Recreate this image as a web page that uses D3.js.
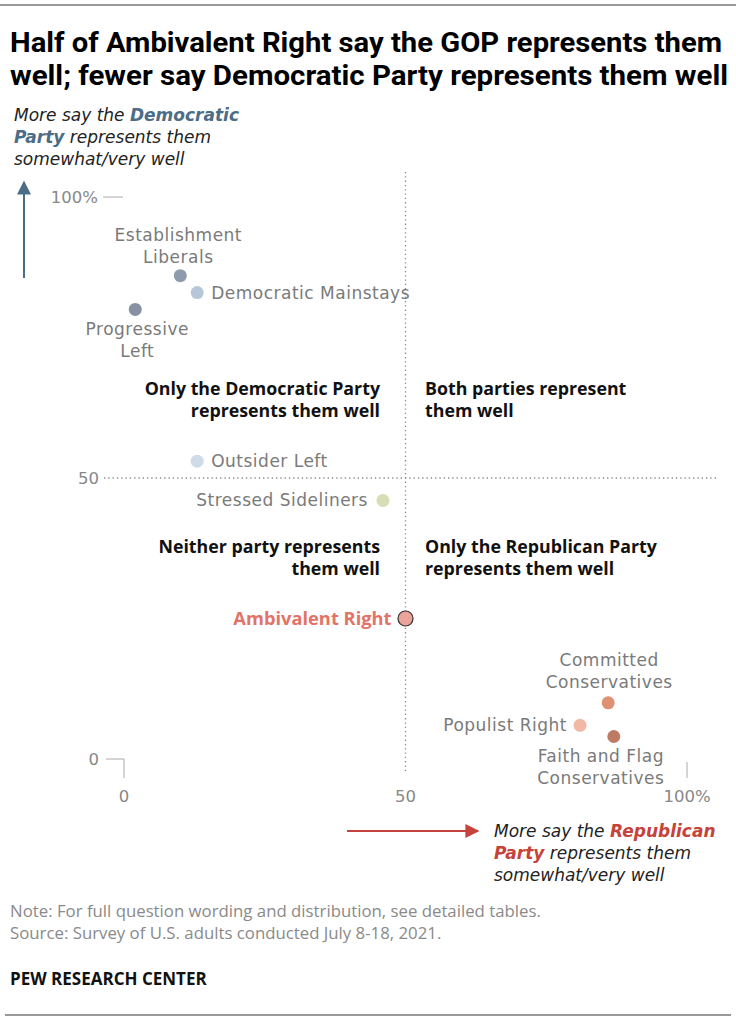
<!DOCTYPE html>
<html>
<head>
<meta charset="utf-8">
<script src="https://cdn.jsdelivr.net/npm/d3@7"></script>
<style>
  body { margin: 0; background: #fff; }
  svg { display: block; font-family: "DejaVu Sans", "Open Sans", sans-serif; }
</style>
</head>
<body>
<svg width="736" height="1023"></svg>
<script>
// typology groups: x = % saying GOP represents them well, y = % saying Democratic Party does
var groups = ["Establishment Liberals", "Democratic Mainstays", "Progressive Left", "Outsider Left",
              "Stressed Sideliners", "Ambivalent Right", "Committed Conservatives", "Populist Right",
              "Faith and Flag Conservatives"];
var repValues = [10, 13, 2, 13, 46, 50, 86, 81, 87];
var demValues = [86, 83, 80, 53, 46, 25, 10, 6, 4];
var dotColors = ["#8e9aad", "#b6c8d7", "#8791a3", "#cfdbe6", "#d8ddb6", "#eba39a", "#df9273", "#f1b9a5", "#bd7b64"];
var xTicks = ["0", "50", "100%"];
var yTicks = ["0", "50", "100%"];

var svg = d3.select("svg");
var W = 736;
var openSans = "'Open Sans', sans-serif";

var x = d3.scaleLinear().domain([0, 100]).range([124, 687]);
var y = d3.scaleLinear().domain([0, 100]).range([759, 197]);

// top and bottom rules
svg.append("line").attr("x1", 0).attr("x2", W).attr("y1", 5).attr("y2", 5)
    .attr("stroke", "#777").attr("stroke-width", 1.5);
svg.append("line").attr("x1", 5).attr("x2", 731).attr("y1", 1015).attr("y2", 1015)
    .attr("stroke", "#777").attr("stroke-width", 1.5);

// title
var title = svg.append("text").attr("font-size", 28)
    .attr("font-weight", "bold").attr("fill", "#000")
    .style("font-family", "'Roboto', sans-serif");
title.append("tspan").attr("x", 10).attr("y", 52)
    .attr("textLength", 712).attr("lengthAdjust", "spacingAndGlyphs")
    .text("Half of Ambivalent Right say the GOP represents them");
title.append("tspan").attr("x", 10).attr("y", 85)
    .attr("textLength", 718).attr("lengthAdjust", "spacingAndGlyphs")
    .text("well; fewer say Democratic Party represents them well");

// y axis direction label
var blue = "#4c6d87", red = "#c5433a";
var yl = svg.append("text").attr("font-size", 17).attr("font-style", "italic").attr("fill", "#222");
var l1 = yl.append("tspan").attr("x", 14).attr("y", 121);
l1.append("tspan").text("More say the ");
l1.append("tspan").attr("font-weight", "bold").attr("fill", blue).text("Democratic");
var l2 = yl.append("tspan").attr("x", 14).attr("y", 143);
l2.append("tspan").attr("font-weight", "bold").attr("fill", blue).text("Party");
l2.append("tspan").text(" represents them");
yl.append("tspan").attr("x", 14).attr("y", 165).text("somewhat/very well");

svg.append("defs").html(
  '<marker id="ab" viewBox="0 0 10 10" refX="9" refY="5" markerWidth="7" markerHeight="7" orient="auto">' +
  '<path d="M0,0L10,5L0,10z" fill="' + blue + '"/></marker>' +
  '<marker id="ar" viewBox="0 0 10 10" refX="9" refY="5" markerWidth="7" markerHeight="7" orient="auto">' +
  '<path d="M0,0L10,5L0,10z" fill="' + red + '"/></marker>');

svg.append("line").attr("x1", 24).attr("x2", 24).attr("y1", 278).attr("y2", 182)
    .attr("stroke", blue).attr("stroke-width", 2).attr("marker-end", "url(#ab)");

// reference lines at 50
svg.append("line").attr("x1", 104).attr("x2", 716).attr("y1", y(50)).attr("y2", y(50))
    .attr("stroke", "#888").attr("stroke-width", 1.3).attr("stroke-dasharray", "1.3,3");
svg.append("line").attr("x1", x(50)).attr("x2", x(50)).attr("y1", 172).attr("y2", 772)
    .attr("stroke", "#888").attr("stroke-width", 1.3).attr("stroke-dasharray", "1.3,3");

// y tick labels
var tickGrey = "#888";
svg.append("text").attr("x", 98).attr("y", y(100) + 6).attr("text-anchor", "end")
    .attr("font-size", 16.5).attr("fill", tickGrey).text(yTicks[2]);
svg.append("line").attr("x1", 103).attr("x2", 123).attr("y1", y(100)).attr("y2", y(100))
    .attr("stroke", "#aaa").attr("stroke-width", 1);
svg.append("text").attr("x", 99).attr("y", y(50) + 6).attr("text-anchor", "end")
    .attr("font-size", 16.5).attr("fill", tickGrey).text(yTicks[1]);
svg.append("text").attr("x", 99).attr("y", y(0) + 6).attr("text-anchor", "end")
    .attr("font-size", 16.5).attr("fill", tickGrey).text(yTicks[0]);
svg.append("path").attr("d", "M106," + y(0) + "H" + x(0) + "V778")
    .attr("fill", "none").attr("stroke", "#aaa").attr("stroke-width", 1);
svg.append("line").attr("x1", x(100)).attr("x2", x(100)).attr("y1", 762).attr("y2", 778)
    .attr("stroke", "#aaa").attr("stroke-width", 1);

// x tick labels
[0, 50, 100].forEach(function(v, i) {
  svg.append("text").attr("x", x(v)).attr("y", 802).attr("text-anchor", "middle")
      .attr("font-size", 16.5).attr("fill", tickGrey).text(xTicks[i]);
});

// x axis direction label
svg.append("line").attr("x1", 347).attr("x2", 478).attr("y1", 831).attr("y2", 831)
    .attr("stroke", red).attr("stroke-width", 2).attr("marker-end", "url(#ar)");
var xl = svg.append("text").attr("font-size", 17).attr("font-style", "italic").attr("fill", "#222");
var m1 = xl.append("tspan").attr("x", 494).attr("y", 837);
m1.append("tspan").text("More say the ");
m1.append("tspan").attr("font-weight", "bold").attr("fill", red).text("Republican");
var m2 = xl.append("tspan").attr("x", 494).attr("y", 859);
m2.append("tspan").attr("font-weight", "bold").attr("fill", red).text("Party");
m2.append("tspan").text(" represents them");
xl.append("tspan").attr("x", 494).attr("y", 881).text("somewhat/very well");

// quadrant labels
var quads = [
  {lines: ["Only the Democratic Party", "represents them well"], x: 380, y: 395, anchor: "end"},
  {lines: ["Both parties represent", "them well"], x: 425, y: 395, anchor: "start"},
  {lines: ["Neither party represents", "them well"], x: 380, y: 553, anchor: "end"},
  {lines: ["Only the Republican Party", "represents them well"], x: 425, y: 553, anchor: "start"}
];
quads.forEach(function(q) {
  var t = svg.append("text").attr("font-size", 17.8).attr("font-weight", "bold")
      .style("font-family", openSans)
      .attr("fill", "#111").attr("text-anchor", q.anchor);
  q.lines.forEach(function(s, i) {
    t.append("tspan").attr("x", q.x).attr("y", q.y + i * 22).text(s);
  });
});

// points
var pts = groups.map(function(g, i) {
  return {name: g, rep: repValues[i], dem: demValues[i], color: dotColors[i]};
});
svg.append("g").selectAll("circle").data(pts).join("circle")
    .attr("cx", d => x(d.rep))
    .attr("cy", d => y(d.dem))
    .attr("fill", d => d.color)
    .attr("stroke", d => d.name === "Ambivalent Right" ? "#333" : "none")
    .attr("stroke-width", 1.2)
    .attr("r", d => d.name === "Ambivalent Right" ? 7.5 : 6.5);

// point labels (offsets relative to dot)
var labelSpecs = {
  "Establishment Liberals": {lines: ["Establishment", "Liberals"], dx: -2, dy: -35, anchor: "middle"},
  "Democratic Mainstays": {lines: ["Democratic Mainstays"], dx: 14, dy: 6, anchor: "start"},
  "Progressive Left": {lines: ["Progressive", "Left"], dx: 2, dy: 26, anchor: "middle"},
  "Outsider Left": {lines: ["Outsider Left"], dx: 14, dy: 6, anchor: "start"},
  "Stressed Sideliners": {lines: ["Stressed Sideliners"], dx: -15, dy: 6, anchor: "end"},
  "Ambivalent Right": {lines: ["Ambivalent Right"], dx: -14, dy: 6, anchor: "end"},
  "Committed Conservatives": {lines: ["Committed", "Conservatives"], dx: 1, dy: -37, anchor: "middle"},
  "Populist Right": {lines: ["Populist Right"], dx: -13, dy: 6, anchor: "end"},
  "Faith and Flag Conservatives": {lines: ["Faith and Flag", "Conservatives"], dx: -13, dy: 25, anchor: "middle"}
};
pts.forEach(function(d) {
  var s = labelSpecs[d.name];
  var amb = d.name === "Ambivalent Right";
  var t = svg.append("text").attr("font-size", amb ? 18.3 : 17).attr("text-anchor", s.anchor)
      .attr("fill", amb ? "#e27467" : "#7a7a7a")
      .attr("letter-spacing", amb ? 0 : 0.5)
      .attr("font-weight", amb ? "bold" : "normal");
  if (amb) t.style("font-family", openSans);
  s.lines.forEach(function(line, i) {
    t.append("tspan").attr("x", x(d.rep) + s.dx).attr("y", y(d.dem) + s.dy + i * 22).text(line);
  });
});

// notes
svg.append("text").attr("x", 10).attr("y", 917).attr("font-size", 16.8).attr("fill", "#8a8a8a")
    .style("font-family", openSans)
    .text("Note: For full question wording and distribution, see detailed tables.");
svg.append("text").attr("x", 10).attr("y", 939).attr("font-size", 16.8).attr("fill", "#8a8a8a")
    .style("font-family", openSans)
    .text("Source: Survey of U.S. adults conducted July 8-18, 2021.");
svg.append("text").attr("x", 10).attr("y", 985).attr("font-size", 17).attr("font-weight", "bold")
    .style("font-family", openSans)
    .attr("fill", "#111").text("PEW RESEARCH CENTER");
</script>
</body>
</html>
